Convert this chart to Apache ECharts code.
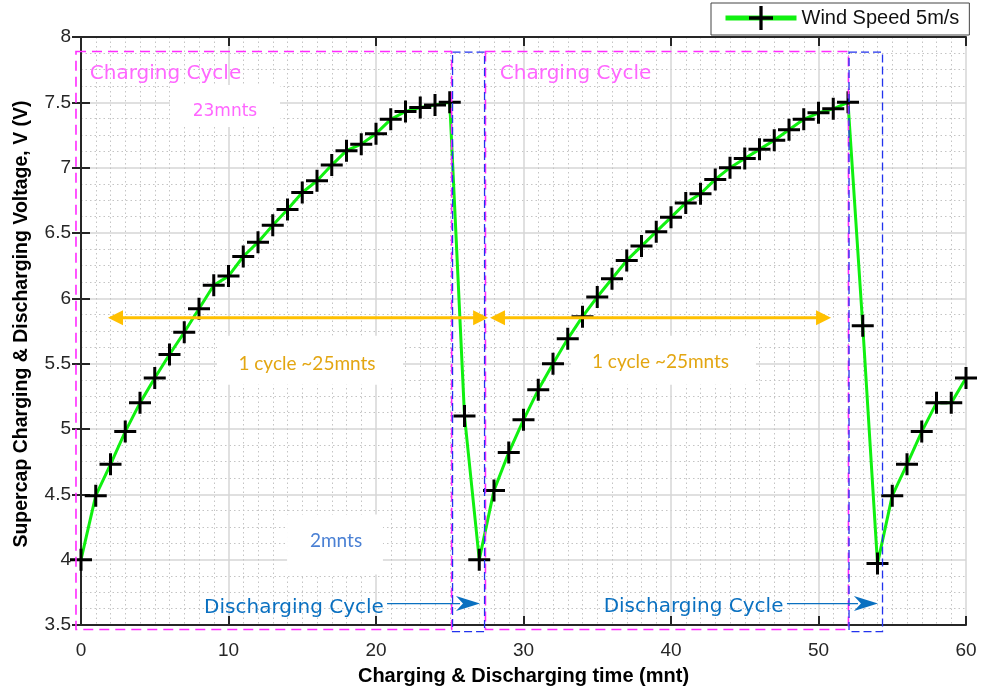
<!DOCTYPE html>
<html><head><meta charset="utf-8">
<script src="https://cdn.jsdelivr.net/npm/echarts@6/dist/echarts.min.js"></script>
<style>html,body{margin:0;padding:0;background:#fff}#c{width:982px;height:691px}</style>
</head><body><div id="c"></div>
<script>
// ---- data ----
const minutes = [0,1,2,3,4,5,6,7,8,9,10,11,12,13,14,15,16,17,18,19,20,21,22,23,24,25,26,27,28,29,30,31,32,33,34,35,36,37,38,39,40,41,42,43,44,45,46,47,48,49,50,51,52,53,54,55,56,57,58,59,60];
const voltage = [4.00,4.49,4.73,4.98,5.20,5.39,5.57,5.74,5.92,6.10,6.17,6.32,6.43,6.56,6.68,6.81,6.90,7.02,7.13,7.18,7.26,7.37,7.43,7.46,7.48,7.50,5.10,4.00,4.53,4.82,5.07,5.30,5.50,5.69,5.86,6.01,6.15,6.29,6.40,6.51,6.62,6.73,6.80,6.91,7.00,7.07,7.14,7.21,7.29,7.37,7.42,7.45,7.50,5.79,3.97,4.49,4.73,4.98,5.20,5.20,5.39];
const seriesName = 'Wind Speed 5m/s';
const xTitle = 'Charging & Discharging time (mnt)';
const yTitle = 'Supercap Charging & Discharging Voltage, V (V)';

// annotations in data coordinates [x0, x1, y0, y1]
const chargeBoxes = [[-0.34, 25.13, 3.466, 7.889], [27.42, 52.03, 3.466, 7.889]];
const dischargeBoxes = [[25.19, 27.36, 3.45, 7.885], [52.07, 54.34, 3.45, 7.885]];
const whiteBoxes = [[6.03, 13.49, 7.312, 7.633], [9.22, 21.83, 5.339, 5.714], [33.22, 45.76, 5.339, 5.714], [13.97, 20.47, 3.886, 4.345]];
const cycleArrows = [[1.83, 27.6, 5.851], [27.73, 50.85, 5.851]];
const dischargeArrows = [[20.75, 27.05, 3.664], [47.86, 54.03, 3.664]];
const noteTexts = ['Charging Cycle', 'Charging Cycle', '23mnts', '1 cycle ~25mnts', '1 cycle ~25mnts', '2mnts', 'Discharging Cycle', 'Discharging Cycle'];
const notePos = [[5.73, 7.717], [33.53, 7.717], [9.76, 7.426], [15.32, 5.500], [39.29, 5.515], [17.29, 4.140], [14.44, 3.634], [41.53, 3.642]];
const noteColor = ['#ff66ff', '#ff66ff', '#ff66ff', '#e3a612', '#e3a612', '#4a80d4', '#0a70c0', '#0a70c0'];
const noteFont = ['20px "DejaVu Sans"', '20px "DejaVu Sans"', '17px "DejaVu Sans"', '19px Lato', '19px Lato', '19px Lato', '20px "DejaVu Sans"', '20px "DejaVu Sans"'];

const plus = 'path://M9.5,0H12.5V9.5H22V12.5H12.5V22H9.5V12.5H0V9.5H9.5Z';
const axisCol = '#262626';

const chart = echarts.init(document.getElementById('c'), null, {renderer: 'canvas'});
const baseX = {
  type: 'value', min: 0, max: 60, interval: 10,
  axisLine: {show: true, lineStyle: {color: axisCol, width: 2}},
  axisTick: {show: true, inside: true, length: 9, lineStyle: {color: axisCol, width: 2}},
  minorTick: {show: false, splitNumber: 10},
};
const baseY = {
  type: 'value', min: 3.5, max: 8, interval: 0.5,
  axisLine: {show: true, lineStyle: {color: axisCol, width: 2}},
  axisTick: {show: true, inside: true, length: 9, lineStyle: {color: axisCol, width: 2}},
  minorTick: {show: false, splitNumber: 4},
};
chart.setOption({
  animation: false,
  backgroundColor: '#fff',
  grid: {left: 81, right: 16, top: 37, bottom: 65.5, containLabel: false},
  legend: {
    left: 711, top: 3, padding: [3, 10, 5, 12],
    borderColor: '#444', borderWidth: 1, backgroundColor: '#fff',
    itemWidth: 71, itemHeight: 30, itemGap: 5,
    lineStyle: {width: 5},
    textStyle: {fontFamily: 'Liberation Sans', fontSize: 20, color: '#111'},
    data: [seriesName]
  },
  xAxis: [
    Object.assign({}, baseX, {
      position: 'bottom',
      axisLabel: {color: axisCol, fontFamily: 'Liberation Sans', fontSize: 19, margin: 16},
      splitLine: {show: true, lineStyle: {color: '#d6d6d6', width: 1.5}},
      minorSplitLine: {show: true, lineStyle: {color: '#c4c4c4', width: 1, type: [1.5, 3]}},
      name: xTitle, nameLocation: 'middle', nameGap: 41,
      nameTextStyle: {fontFamily: 'Liberation Sans', fontWeight: 'bold', fontSize: 20, color: '#000'}
    }),
    Object.assign({}, baseX, {position: 'top', axisLabel: {show: false}, splitLine: {show: false}})
  ],
  yAxis: [
    Object.assign({}, baseY, {
      position: 'left',
      axisLabel: {color: axisCol, fontFamily: 'Liberation Sans', fontSize: 19, margin: 10},
      splitLine: {show: true, lineStyle: {color: '#d6d6d6', width: 1.5}},
      minorSplitLine: {show: true, lineStyle: {color: '#c4c4c4', width: 1, type: [1.5, 3]}},
      name: yTitle, nameLocation: 'middle', nameGap: 49,
      nameTextStyle: {fontFamily: 'Liberation Sans', fontWeight: 'bold', fontSize: 19.5, color: '#000', padding: [0, 0, 0, 14]}
    }),
    Object.assign({}, baseY, {position: 'right', axisLabel: {show: false}, splitLine: {show: false}})
  ],
  series: [{
    name: seriesName, type: 'line',
    data: minutes.map((m, i) => [m, voltage[i]]),
    symbol: plus, symbolSize: 22,
    itemStyle: {color: '#000'},
    lineStyle: {color: '#10f010', width: 3},
    z: 2
  }]
});

function px(x, y) { return chart.convertToPixel({gridIndex: 0}, [x, y]); }
const els = [];
whiteBoxes.forEach(b => {
  const p0 = px(b[0], b[3]), p1 = px(b[1], b[2]);
  els.push({type: 'rect', z: 1, shape: {x: p0[0], y: p0[1], width: p1[0] - p0[0], height: p1[1] - p0[1]}, style: {fill: '#fff'}});
});
chargeBoxes.forEach(b => {
  const p0 = px(b[0], b[3]), p1 = px(b[1], b[2]);
  els.push({type: 'rect', z: 5, shape: {x: p0[0], y: p0[1], width: p1[0] - p0[0], height: p1[1] - p0[1]}, style: {fill: 'none', stroke: '#ff2bff', lineWidth: 1.6, lineDash: [10, 6]}});
});
dischargeBoxes.forEach(b => {
  const p0 = px(b[0], b[3]), p1 = px(b[1], b[2]);
  els.push({type: 'rect', z: 5, shape: {x: p0[0], y: p0[1], width: p1[0] - p0[0], height: p1[1] - p0[1]}, style: {fill: 'none', stroke: '#2233ee', lineWidth: 1.3, lineDash: [8, 4]}});
});
cycleArrows.forEach(a => {
  const p0 = px(a[0], a[2]), p1 = px(a[1], a[2]);
  const col = '#ffc000', L = 15, H = 7.5;
  els.push({type: 'line', z: 5, shape: {x1: p0[0] + L - 2, y1: p0[1], x2: p1[0] - L + 2, y2: p1[1]}, style: {stroke: col, lineWidth: 3}});
  els.push({type: 'polygon', z: 5, shape: {points: [[p0[0], p0[1]], [p0[0] + L, p0[1] - H], [p0[0] + L, p0[1] + H]]}, style: {fill: col}});
  els.push({type: 'polygon', z: 5, shape: {points: [[p1[0], p1[1]], [p1[0] - L, p1[1] - H], [p1[0] - L, p1[1] + H]]}, style: {fill: col}});
});
dischargeArrows.forEach(a => {
  const p0 = px(a[0], a[2]), p1 = px(a[1], a[2]);
  const col = '#0a70c0', L = 24, H = 7.5;
  els.push({type: 'line', z: 5, shape: {x1: p0[0], y1: p0[1], x2: p1[0] - L + 4, y2: p1[1]}, style: {stroke: col, lineWidth: 1.2}});
  els.push({type: 'polygon', z: 5, shape: {points: [[p1[0], p1[1]], [p1[0] - L, p1[1] - H], [p1[0] - L + 7, p1[1]], [p1[0] - L, p1[1] + H]]}, style: {fill: col}});
});
noteTexts.forEach((t, i) => {
  const p = px(notePos[i][0], notePos[i][1]);
  els.push({type: 'text', z: 6, x: p[0], y: p[1], style: {text: t, fill: noteColor[i], font: noteFont[i], align: 'center', verticalAlign: 'middle'}});
});
chart.setOption({graphic: {elements: els}});
</script></body></html>
